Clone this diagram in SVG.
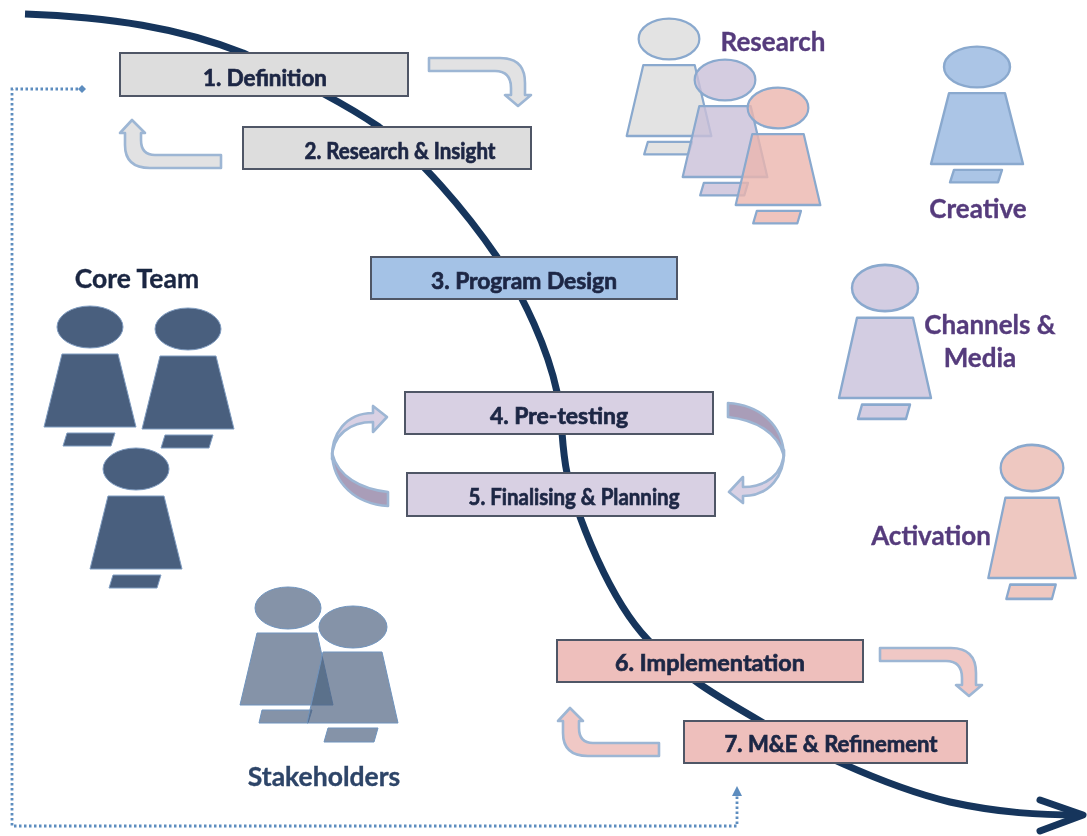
<svg xmlns="http://www.w3.org/2000/svg" xmlns:xlink="http://www.w3.org/1999/xlink" width="1087" height="836" viewBox="0 0 1087 836">
<style>
text{font-family:"Lato","Open Sans","Liberation Sans",sans-serif;font-weight:700;text-anchor:middle}
.step{font-size:22px;fill:#1f2845;stroke:#1f2845;stroke-width:.7}
.role{font-size:26px;fill:#553b7c;stroke:#553b7c;stroke-width:.35}
.dark{font-size:26.5px;fill:#1a2642;stroke:#1a2642;stroke-width:.35}
.box{stroke:#4f5766;stroke-width:2}
.bent{stroke:#9db6d4;stroke-width:2.6;stroke-linejoin:round}
.p{stroke:#8aa9ce;stroke-width:2.4;stroke-linejoin:round}
.core{fill:#4a5f7e;stroke:#7f9cc0;stroke-width:1}
.st{fill:#4a607f;fill-opacity:.68;stroke:#6f93bd;stroke-width:1}
</style>
<defs>
<filter id="soft" filterUnits="userSpaceOnUse" x="0" y="0" width="1087" height="836"><feGaussianBlur stdDeviation="0.7"/></filter>
<g id="person">
<ellipse cx="0" cy="0" rx="33" ry="21"/>
<polygon points="-28,27 28,27 46,100 -46,100"/>
<polygon points="-23,106 25,106 21,119 -27,119"/>
</g>
<path id="bentDown" d="M429 58H500Q525 58 525 83V95H531L518 106L505 95H511V88Q511 71 495 71H429Z"/>
<path id="bentUp" d="M221 155H155Q141 155 141 140V133H145L132 120L120 133H125V145Q125 168 150 168H221Z"/>
<g id="loop">
<path d="M728 403C760 405 783 425 784 456C778 432 755 420 728 417Z" fill="#a99db8"/>
<path d="M784 450C784 475 765 487 743 487V477L729 492L743 503V496C770 496 785 475 784 450Z" fill="#d9d1e4"/>
</g>
</defs>
<rect width="1087" height="836" fill="#ffffff"/>
<g filter="url(#soft)">
<g id="connectors" fill="none">
<path d="M25 14C110 17 180 28 243 53C285 74 340 100 379 127C420 158 465 210 497 257C525 298 548 350 557 392C563 420 561 445 567 473C578 520 610 600 648 640C680 675 720 698 760 721C800 745 880 785 950 802C1000 813 1040 815 1080 815" stroke="#14355c" stroke-width="7"/>
<path d="M1040 800L1083 815L1040 831" stroke="#14355c" stroke-width="7" stroke-linecap="round" stroke-linejoin="round"/>
<path d="M78 89H12V826H737V795" stroke="#5d8dbf" stroke-width="2.8" stroke-dasharray="2.5 2.5"/>
<polygon points="82,85 86,89 82,93 78,89" fill="#5d8dbf"/>
<polygon points="737,786 742,796 732,796" fill="#5d8dbf"/>
<use xlink:href="#bentDown" href="#bentDown" class="bent" fill="#e2e2e3"/>
<use xlink:href="#bentUp" href="#bentUp" class="bent" fill="#e2e2e3"/>
<use xlink:href="#bentDown" href="#bentDown" class="bent" fill="#f0c8c5" transform="translate(451 590)"/>
<use xlink:href="#bentUp" href="#bentUp" class="bent" fill="#f0c8c5" transform="translate(438 588)"/>
<use xlink:href="#loop" href="#loop" class="bent"/>
<use xlink:href="#loop" href="#loop" class="bent" transform="rotate(180 558 454.5)"/>
</g>
<g id="step1"><rect class="box" x="120" y="53" width="288" height="43" fill="#dddddd"/><text class="step" x="265" y="86" textLength="124" lengthAdjust="spacingAndGlyphs">1. Definition</text></g>
<g id="step2"><rect class="box" x="243" y="127" width="288" height="42" fill="#dddddd"/><text class="step" x="400" y="159" textLength="191" lengthAdjust="spacingAndGlyphs">2. Research &amp; Insight</text></g>
<g id="step3"><rect class="box" x="371" y="257" width="306" height="42" fill="#a4c2e6"/><text class="step" x="524" y="289" textLength="186" lengthAdjust="spacingAndGlyphs">3. Program Design</text></g>
<g id="step4"><rect class="box" x="405" y="392" width="308" height="42" fill="#d8d0e3"/><text class="step" x="559" y="424" textLength="138" lengthAdjust="spacingAndGlyphs">4. Pre-testing</text></g>
<g id="step5"><rect class="box" x="407" y="473" width="308" height="43" fill="#d8d0e3"/><text class="step" x="574" y="505" textLength="211" lengthAdjust="spacingAndGlyphs">5. Finalising &amp; Planning</text></g>
<g id="step6"><rect class="box" x="557" y="640" width="306" height="42" fill="#eebfbc"/><text class="step" x="710" y="671" textLength="190" lengthAdjust="spacingAndGlyphs">6. Implementation</text></g>
<g id="step7"><rect class="box" x="684" y="721" width="283" height="42" fill="#eebfbc"/><text class="step" x="831" y="752" textLength="213" lengthAdjust="spacingAndGlyphs">7. M&amp;E &amp; Refinement</text></g>
<g id="core-team">
<text class="dark" x="137" y="288">Core Team</text>
<use xlink:href="#person" href="#person" class="core" transform="translate(90 327)"/>
<use xlink:href="#person" href="#person" class="core" transform="translate(188 329)"/>
<use xlink:href="#person" href="#person" class="core" transform="translate(136 469)"/>
</g>
<g id="stakeholders">
<g class="st"><ellipse cx="288" cy="608" rx="33" ry="21"/><polygon points="257,633 317,633 333,705 240,705"/><polygon points="262,710 312,710 308,723 259,723"/></g>
<g class="st"><ellipse cx="353" cy="627" rx="34" ry="21"/><polygon points="323,652 382,652 398,723 307,723"/><polygon points="328,728 378,728 374,742 324,742"/></g>
<text class="dark" x="324" y="786" style="fill:#2d4468;stroke:#2d4468">Stakeholders</text>
</g>
<g id="research">
<use xlink:href="#person" href="#person" class="p" fill="#dcdcdc" fill-opacity=".8" transform="translate(669 39) scale(.92 .97)"/>
<use xlink:href="#person" href="#person" class="p" fill="#c9bfd8" fill-opacity=".8" transform="translate(725 80) scale(.92 .97)"/>
<use xlink:href="#person" href="#person" class="p" fill="#ebb5ae" fill-opacity=".8" transform="translate(778 108) scale(.92 .97)"/>
<text class="role" x="773" y="51">Research</text>
</g>
<g id="creative">
<use xlink:href="#person" href="#person" class="p" fill="#abc5e6" transform="translate(977 67) scale(1 .97)"/>
<text class="role" x="978" y="218">Creative</text>
</g>
<g id="channels">
<use xlink:href="#person" href="#person" class="p" fill="#d3cde2" transform="translate(885 288) scale(1 1.1)"/>
<text class="role" x="990" y="334">Channels &amp;</text>
<text class="role" x="980" y="367">Media</text>
</g>
<g id="activation">
<use xlink:href="#person" href="#person" class="p" fill="#eec8c1" transform="translate(1032 468) scale(.95 1.1)"/>
<text class="role" x="931" y="545">Activation</text>
</g>
</g>
</svg>
